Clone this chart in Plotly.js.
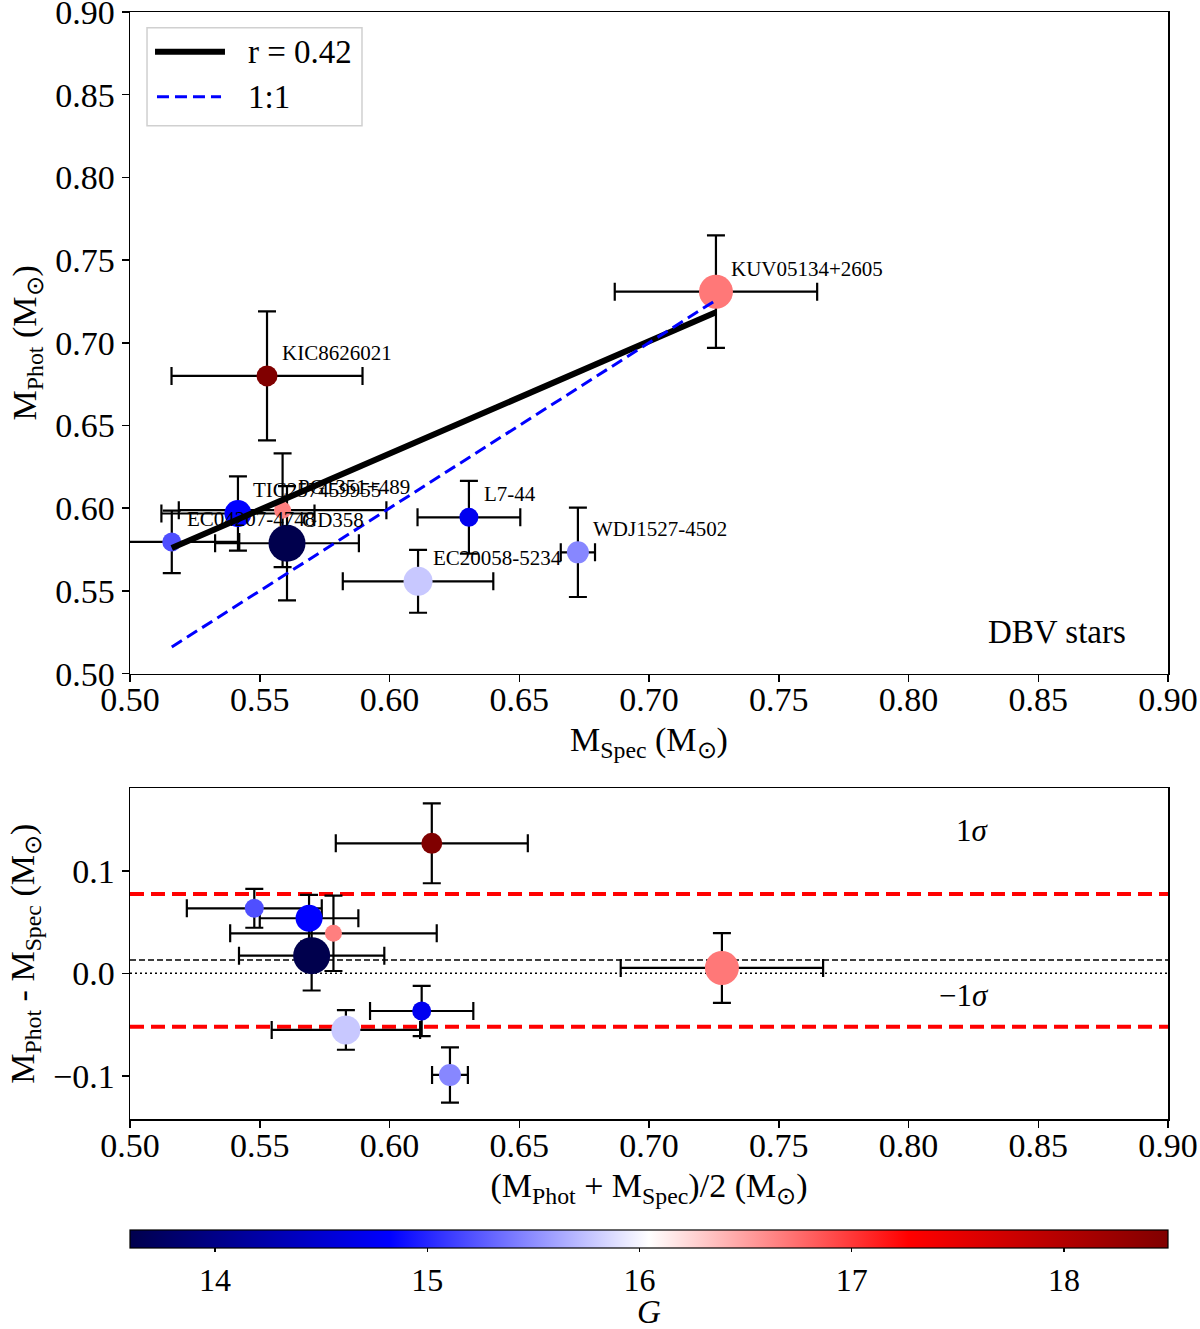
<!DOCTYPE html>
<html>
<head>
<meta charset="utf-8">
<script src="https://cdn.plot.ly/plotly-3.0.1.min.js"></script>
<style>
  html, body { margin: 0; padding: 0; background: #fff; }
  #chart { width: 1200px; height: 1329px; }
</style>
</head>
<body>
<div id="chart"></div>
<script>
// DBV stars: spectroscopic vs photometric masses
const names = ['KIC8626021', 'KUV05134+2605', 'L7-44', 'WDJ1527-4502', 'EC20058-5234',
               'GD358', 'TIC257459955', 'PG1351+489', 'EC04207-4748'];
const mSpec    = [0.5528, 0.7258, 0.6306, 0.6726, 0.6110, 0.5605, 0.5416, 0.5588, 0.5161];
const mSpecErr = [0.0368, 0.0390, 0.0198, 0.0066, 0.0290, 0.0277, 0.0295, 0.0400, 0.0260];
const mPhot    = [0.6800, 0.7309, 0.5945, 0.5733, 0.5558, 0.5788, 0.5968, 0.5988, 0.5796];
const mPhotErr = [0.0390, 0.0340, 0.0220, 0.0270, 0.0190, 0.0345, 0.0224, 0.0344, 0.0189];
const gMag     = [18.49, 16.69, 14.72, 15.47, 15.78, 13.60, 14.82, 16.66, 15.20];
const markerSize = [21, 34, 19, 22, 29, 37, 27, 17, 19];

// fit (r = 0.42) and 1:1 line
const fitX = [0.5161, 0.7258];
const fitY = [0.5760, 0.7184];
const oneX = [0.5161, 0.7258];
const oneY = [0.5161, 0.7258];

// lower panel: mean mass vs difference
const mAvg     = [0.6163, 0.7281, 0.6124, 0.6233, 0.5832, 0.5700, 0.5690, 0.5784, 0.5479];
const mAvgErr  = [0.0370, 0.0390, 0.0199, 0.0069, 0.0286, 0.0280, 0.0190, 0.0398, 0.0260];
const mDiff    = [0.1268, 0.0052, -0.0368, -0.0992, -0.0553, 0.0172, 0.0537, 0.0390, 0.0634];
const mDiffErr = [0.0390, 0.0340, 0.0246, 0.0270, 0.0193, 0.0340, 0.0227, 0.0368, 0.0190];
const diffMean = 0.013;
const sigmaHi = 0.0774;
const sigmaLo = -0.0521;

const gTicks = [14, 15, 16, 17, 18];
const massTicks = [0.50, 0.55, 0.60, 0.65, 0.70, 0.75, 0.80, 0.85, 0.90];
const diffTicks = [-0.1, 0.0, 0.1];

const FONT = '"Liberation Serif", "Times New Roman", Times, serif';
const seismic = [[0, 'rgb(0,0,77)'], [0.25, 'rgb(0,0,255)'], [0.5, 'rgb(255,255,255)'],
                 [0.75, 'rgb(255,0,0)'], [1, 'rgb(128,0,0)']];

const errStyle = arr => ({type: 'data', array: arr, color: 'black', thickness: 2.2, width: 9});

const traces = [
  {
    type: 'scatter', mode: 'markers', x: mSpec, y: mPhot, xaxis: 'x', yaxis: 'y',
    error_x: errStyle(mSpecErr), error_y: errStyle(mPhotErr),
    marker: {
      color: gMag, colorscale: seismic, cmin: 13.6, cmax: 18.49, size: markerSize,
      line: {width: 0}, opacity: 1, showscale: true,
      colorbar: {
        orientation: 'h', x: 0.5, xanchor: 'center', y: 0.0608, yanchor: 'top',
        len: 1, lenmode: 'fraction', thickness: 18, xpad: 0, ypad: 0,
        outlinewidth: 1.2, outlinecolor: 'black',
        ticks: 'outside', ticklen: 4, tickwidth: 1.2, tickcolor: 'black',
        tickvals: gTicks, tickfont: {size: 32, family: FONT, color: 'black'}
      }
    },
    hoverinfo: 'text', text: names, showlegend: false
  },
  {
    type: 'scatter', mode: 'lines', x: fitX, y: fitY, xaxis: 'x', yaxis: 'y',
    line: {color: 'black', width: 6}, showlegend: false
  },
  {
    type: 'scatter', mode: 'lines', x: oneX, y: oneY, xaxis: 'x', yaxis: 'y',
    line: {color: 'blue', width: 3, dash: '12px,6px'}, showlegend: false
  },
  {
    type: 'scatter', mode: 'markers', x: mAvg, y: mDiff, xaxis: 'x2', yaxis: 'y2',
    error_x: errStyle(mAvgErr), error_y: errStyle(mDiffErr),
    marker: {color: gMag, colorscale: seismic, cmin: 13.6, cmax: 18.49, size: markerSize,
             line: {width: 0}, opacity: 1, showscale: false},
    hoverinfo: 'text', text: names, showlegend: false
  }
];

const axisBase = {
  showline: true, mirror: true, linecolor: 'black', linewidth: 1.5,
  ticks: 'outside', ticklen: 7, tickwidth: 1.5, tickcolor: 'black',
  showgrid: false, zeroline: false, ticklabeloverflow: 'allow',
  tickfont: {size: 34, family: FONT, color: 'black'}
};
const titleFont = {size: 34, family: FONT, color: 'black'};

const annotations = names.map((n, i) => ({
  x: mSpec[i], y: mPhot[i], xref: 'x', yref: 'y', text: n, showarrow: false,
  xanchor: 'left', yanchor: 'middle', xshift: 13, yshift: 23,
  font: {size: 21, family: FONT, color: 'black'}
}));
annotations.push(
  {x: 0.8572, y: 0.5253, xref: 'x', yref: 'y', text: 'DBV stars', showarrow: false,
   font: {size: 33, family: FONT, color: 'black'}},
  {x: 0.8245, y: 0.139, xref: 'x2', yref: 'y2', text: '1<i>σ</i>', showarrow: false,
   font: {size: 31, family: FONT, color: 'black'}},
  {x: 0.8215, y: -0.0221, xref: 'x2', yref: 'y2', text: '−1<i>σ</i>', showarrow: false,
   font: {size: 31, family: FONT, color: 'black'}},
  {x: 0.1118, y: 0.940, xref: 'x domain', yref: 'y domain', text: 'r = 0.42', showarrow: false,
   xanchor: 'left', yanchor: 'middle', font: {size: 33, family: FONT, color: 'black'}},
  {x: 0.1118, y: 0.872, xref: 'x domain', yref: 'y domain', text: '1:1', showarrow: false,
   xanchor: 'left', yanchor: 'middle', font: {size: 33, family: FONT, color: 'black'}},
  // colour bar label
  {x: 0.5, y: -0.0023, xref: 'paper', yref: 'paper', text: '<i>G</i>', showarrow: false,
   xanchor: 'center', yanchor: 'middle', font: {size: 33, family: FONT, color: 'black'}}
);

const hline = (y, color, width, dash) => ({
  type: 'line', xref: 'x2 domain', yref: 'y2', x0: 0, x1: 1, y0: y, y1: y,
  line: {color: color, width: width, dash: dash}, layer: 'below'
});

const shapes = [
  hline(sigmaHi, 'red', 4, '14px,7px'),
  hline(sigmaLo, 'red', 4, '14px,7px'),
  hline(diffMean, 'black', 1.5, '6px,3px'),
  hline(0, 'black', 1.5, '2px,3px'),
  // legend box
  {type: 'rect', xref: 'x domain', yref: 'y domain', x0: 0.0164, x1: 0.2235, y0: 0.828, y1: 0.9763,
   line: {color: '#d0d0d0', width: 1.5}, fillcolor: 'rgba(255,255,255,0.8)'},
  {type: 'line', xref: 'x domain', yref: 'y domain', x0: 0.0241, x1: 0.0915, y0: 0.940, y1: 0.940,
   line: {color: 'black', width: 6}},
  {type: 'line', xref: 'x domain', yref: 'y domain', x0: 0.026, x1: 0.0877, y0: 0.872, y1: 0.872,
   line: {color: 'blue', width: 3, dash: '12px,6px'}}
];

const layout = {
  width: 1200, height: 1329,
  margin: {l: 130, r: 32, t: 12, b: 20, autoexpand: false},
  paper_bgcolor: 'white', plot_bgcolor: 'white',
  font: {family: FONT, color: 'black'},
  showlegend: false,
  xaxis: {...axisBase, domain: [0, 1], anchor: 'y', range: [0.5, 0.9],
          tickvals: massTicks, tickformat: '.2f', ticklabelstandoff: -12,
          title: {text: 'M<sub>Spec</sub> (M<sub>⊙</sub>)', font: titleFont, standoff: 10}},
  yaxis: {...axisBase, domain: [0.4899, 1], anchor: 'x', range: [0.5, 0.9],
          tickvals: massTicks, tickformat: '.2f',
          title: {text: 'M<sub>Phot</sub> (M<sub>⊙</sub>)', font: titleFont, standoff: 8}},
  xaxis2: {...axisBase, domain: [0, 1], anchor: 'y2', range: [0.5, 0.9],
           tickvals: massTicks, tickformat: '.2f', ticklabelstandoff: -12,
           title: {text: '(M<sub>Phot</sub> + M<sub>Spec</sub>)/2 (M<sub>⊙</sub>)', font: titleFont, standoff: 10}},
  yaxis2: {...axisBase, domain: [0.1463, 0.4015], anchor: 'x2', range: [-0.1424, 0.1805],
           tickvals: diffTicks, tickformat: '.1f',
           title: {text: 'M<sub>Phot</sub> - M<sub>Spec</sub> (M<sub>⊙</sub>)', font: titleFont, standoff: 8}},
  annotations: annotations,
  shapes: shapes
};

Plotly.newPlot('chart', traces, layout, {displayModeBar: false, staticPlot: true});
</script>
</body>
</html>
